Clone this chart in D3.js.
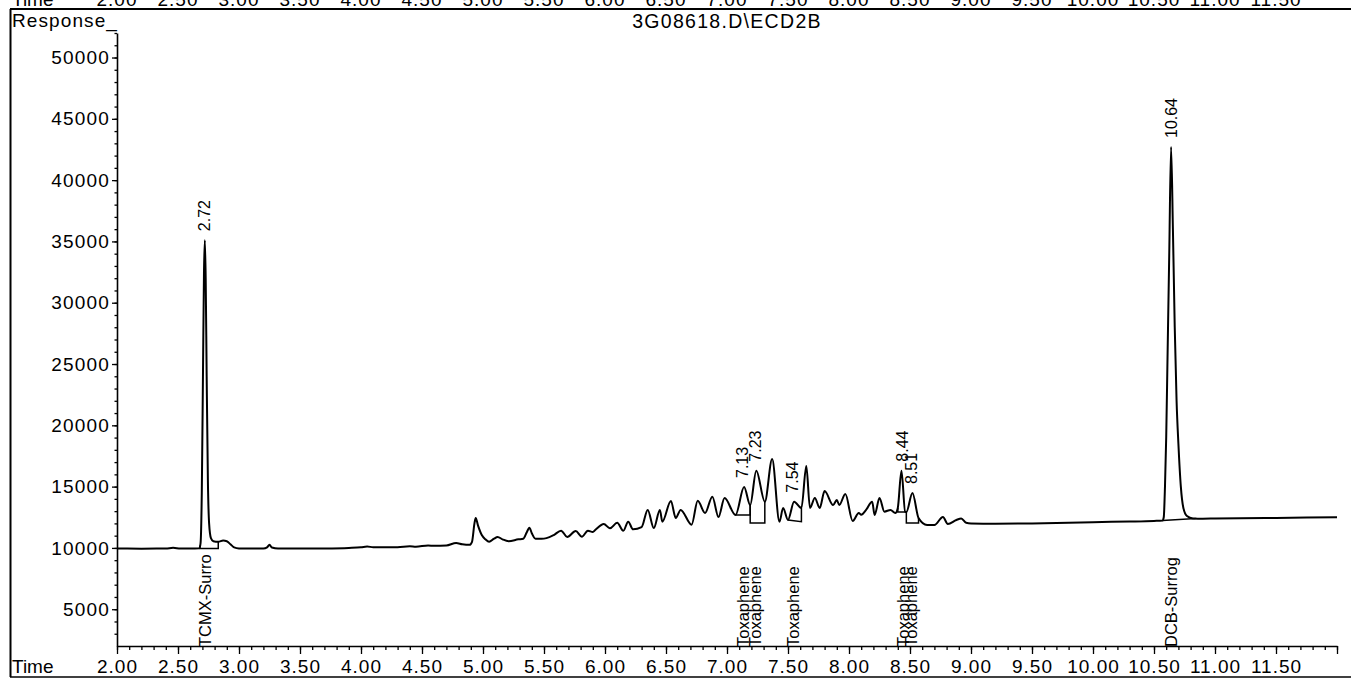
<!DOCTYPE html>
<html><head><meta charset="utf-8">
<script src="https://cdn.jsdelivr.net/npm/d3@7"></script>
<style>
body{margin:0;background:#fff;}
svg{display:block;}
text{font-family:"Liberation Sans",Arial,sans-serif;fill:#000;}
</style>
</head><body><svg id="c" width="1351" height="687"></svg>
<script>
const title = "3G08618.D\\ECD2B";
const yAxisTitle = "Response_";
const xAxisTitle = "Time";
const xTickLabels = ["2.00","2.50","3.00","3.50","4.00","4.50","5.00","5.50","6.00","6.50","7.00","7.50","8.00","8.50","9.00","9.50","10.00","10.50","11.00","11.50"];
const yTickLabels = ["5000","10000","15000","20000","25000","30000","35000","40000","45000","50000"];

// [retention time (min), response]
const tracePoints = [
  [2.00,9950],[2.20,9940],[2.40,9950],[2.46,10010],[2.52,9950],[2.60,9950],[2.675,9980],
  [2.685,10400],[2.695,14500],[2.705,24500],[2.713,32500],[2.72,35100],[2.727,32000],
  [2.735,24000],[2.745,15500],[2.755,12000],[2.77,10800],[2.79,10550],[2.83,10500],
  [2.87,10600],[2.90,10550],[2.93,10300],[2.96,10050],[3.00,9960],[3.10,9950],[3.20,9960],
  [3.23,10050],[3.25,10250],[3.27,10030],[3.32,9950],[3.50,9950],[3.70,9960],[3.90,10000],
  [4.00,10050],[4.05,10120],[4.10,10050],[4.30,10060],[4.40,10130],[4.45,10100],[4.55,10200],
  [4.60,10170],[4.70,10200],[4.78,10400],[4.83,10300],[4.89,10250],[4.91,10500],[4.93,12000],
  [4.94,12450],[4.96,11800],[4.99,11050],[5.02,10700],[5.05,10500],[5.09,10750],[5.12,10900],
  [5.16,10700],[5.21,10550],[5.29,10700],[5.33,10750],[5.36,11300],[5.38,11650],[5.40,11200],
  [5.43,10750],[5.48,10750],[5.52,10800],[5.58,11050],[5.64,11400],[5.69,10900],[5.76,11380],
  [5.81,10920],[5.86,11400],[5.90,11300],[5.92,11460],[5.99,11950],[6.04,11600],[6.10,12050],
  [6.15,11400],[6.19,12140],[6.23,11520],[6.30,11700],[6.35,13100],[6.40,11620],[6.45,13100],
  [6.47,12140],[6.54,13830],[6.58,12440],[6.62,13100],[6.71,11900],[6.76,13850],[6.82,12850],
  [6.88,14180],[6.93,12520],[6.98,14070],[7.07,12690],[7.14,14970],[7.19,13500],[7.24,16300],
  [7.31,13770],[7.37,17250],[7.43,12140],[7.46,13260],[7.50,12280],[7.55,13770],[7.61,13260],
  [7.65,16680],[7.68,13260],[7.72,14070],[7.76,13260],[7.80,14640],[7.87,13500],[7.90,13900],
  [7.92,13500],[7.97,14400],[8.03,12200],[8.08,12850],[8.10,12700],[8.14,13100],[8.19,13770],
  [8.21,12690],[8.25,14070],[8.29,12960],[8.34,13100],[8.38,12850],[8.40,13260],[8.43,16300],
  [8.46,12960],[8.47,12930],[8.52,14480],[8.57,12440],[8.64,11870],[8.70,11870],[8.77,12520],
  [8.81,11950],[8.88,12280],[8.92,12400],[8.96,12050],[9.00,12000],[9.20,11980],[9.50,12000],
  [9.80,12050],[10.00,12100],[10.30,12150],[10.50,12200],[10.57,12230],[10.58,12500],
  [10.59,15000],[10.60,19000],[10.61,25000],[10.625,34000],[10.64,42700],[10.655,36000],
  [10.67,28000],[10.685,22000],[10.70,18500],[10.72,15000],[10.74,13300],[10.77,12600],
  [10.82,12400],[10.90,12380],[11.00,12400],[11.50,12450],[12.00,12500]
];

const peakTimes = [2.72, 7.13, 7.23, 7.54, 8.44, 8.51, 10.64];
const peakLabels = ["2.72","7.13","7.23","7.54","8.44","8.51","10.64"];
const peakTops = [35100, 14970, 16300, 13770, 16300, 14480, 42700];
const compoundNames = ["TCMX-Surro","Toxaphene","Toxaphene","Toxaphene","Toxaphene","Toxaphene","DCB-Surrog"];
const integStart = [2.68, 7.07, 7.19, 7.50, 8.40, 8.47, 10.57];
const integEnd = [2.83, 7.19, 7.31, 7.61, 8.47, 8.57, 10.84];
const integBaseStart = [9950, 12690, 12030, 12280, 12930, 12030, 12230];
const integBaseEnd = [9950, 12690, 12030, 12140, 12930, 12030, 12400];

const svg = d3.select("#c");
const x = d3.scaleLinear().domain([2, 12]).range([117, 1337]);
const y = d3.scaleLinear().domain([2000, 52000]).range([646, 33]);

// frame
svg.append("line").attr("x1",10).attr("x2",1351).attr("y1",9).attr("y2",9).attr("stroke","#000").attr("stroke-width",2);
svg.append("line").attr("x1",10.5).attr("x2",10.5).attr("y1",9).attr("y2",677).attr("stroke","#000").attr("stroke-width",2);
svg.append("line").attr("x1",10).attr("x2",1351).attr("y1",677).attr("y2",677).attr("stroke","#000").attr("stroke-width",1.5);

// clipped axis labels of the previous panel at the very top
const topRow = svg.append("g");
topRow.append("text").attr("x",12).attr("y",6).style("font-size","19px").text(xAxisTitle);
topRow.selectAll("text.t").data(xTickLabels).join("text").attr("class","t")
  .attr("x",d=>x(+d)).attr("y",6).attr("text-anchor","middle")
  .style("font-size","19px").style("letter-spacing","1px").text(d=>d);

// titles
svg.append("text").attr("x",12).attr("y",27).style("font-size","19px").style("letter-spacing","1.1px").text(yAxisTitle);
svg.append("text").attr("x",(x.range()[0]+x.range()[1])/2).attr("y",28).attr("text-anchor","middle")
  .style("font-size","19.5px").style("letter-spacing","1.3px").text(title);

// y axis
const yMinor = svg.append("g").attr("transform","translate(117,0)")
  .call(d3.axisLeft(y).tickValues(d3.range(3000, 52001, 1000)).tickSize(2.5).tickSizeOuter(0).tickFormat(""));
yMinor.select(".domain").remove();
const yAx = svg.append("g").attr("transform","translate(117,0)")
  .call(d3.axisLeft(y).tickValues(yTickLabels.map(Number)).tickSize(5).tickSizeOuter(0).tickPadding(2)
    .tickFormat((d,i)=>yTickLabels[i]));
yAx.select(".domain").attr("stroke-width",1.6);
yAx.selectAll("text").style("font-size","19px").style("letter-spacing","1.2px").style("font-family",null);
yAx.selectAll("line").attr("stroke-width",1.3);
yMinor.selectAll("line").attr("stroke-width",1.3);

// x axis
const xMinor = svg.append("g").attr("transform","translate(0,646)")
  .call(d3.axisBottom(x).tickValues(d3.range(2, 12.001, 0.1)).tickSize(4).tickSizeOuter(0).tickFormat(""));
xMinor.select(".domain").remove();
xMinor.selectAll("line").attr("stroke-width",1.3);
const xAx = svg.append("g").attr("transform","translate(0,646)")
  .call(d3.axisBottom(x).tickValues(xTickLabels.map(Number).concat([12])).tickSize(8).tickSizeOuter(0).tickPadding(5.5)
    .tickFormat((d,i)=>i < xTickLabels.length ? xTickLabels[i] : ""));
xAx.select(".domain").attr("stroke-width",1.6);
xAx.selectAll("line").attr("stroke-width",1.3);
xAx.selectAll("text").style("font-size","19px").style("letter-spacing","1px").style("font-family",null);
svg.append("text").attr("x",12).attr("y",673).style("font-size","19px").text(xAxisTitle);

// trace
const line = d3.line().x(d=>x(d[0])).y(d=>y(d[1])).curve(d3.curveMonotoneX);
svg.append("path").datum(tracePoints).attr("d",line).attr("fill","none")
  .attr("stroke","#000").attr("stroke-width",2).attr("stroke-linejoin","round");

// integration baselines
const bis = d3.bisector(d=>d[0]).left;
function respAt(t){
  const i = Math.max(1, Math.min(tracePoints.length-1, bis(tracePoints, t)));
  const a = tracePoints[i-1], b = tracePoints[i];
  return a[1] + (b[1]-a[1]) * (t-a[0]) / (b[0]-a[0]);
}
const integ = peakTimes.map((p,i)=>({s:integStart[i], e:integEnd[i], b0:integBaseStart[i], b1:integBaseEnd[i]}));
svg.append("g").selectAll("path").data(integ).join("path")
  .attr("d",d=>{
    const p = d3.path();
    p.moveTo(x(d.s), y(respAt(d.s)));
    p.lineTo(x(d.s), y(d.b0));
    p.lineTo(x(d.e), y(d.b1));
    p.lineTo(x(d.e), y(respAt(d.e)));
    return p.toString();
  })
  .attr("fill","none").attr("stroke","#000").attr("stroke-width",1.5);

// peak retention-time labels
svg.append("g").selectAll("text").data(peakTimes).join("text")
  .attr("transform",(d,i)=>`translate(${x(d)+5.5},${y(peakTops[i])-9}) rotate(-90)`)
  .style("font-size","16px").text((d,i)=>peakLabels[i]);

// compound name labels
svg.append("g").selectAll("text").data(peakTimes).join("text")
  .attr("transform",(d,i)=>`translate(${x(d)+6},${647}) rotate(-90)`)
  .style("font-size","16.5px").text((d,i)=>compoundNames[i]);
</script>
</body></html>
